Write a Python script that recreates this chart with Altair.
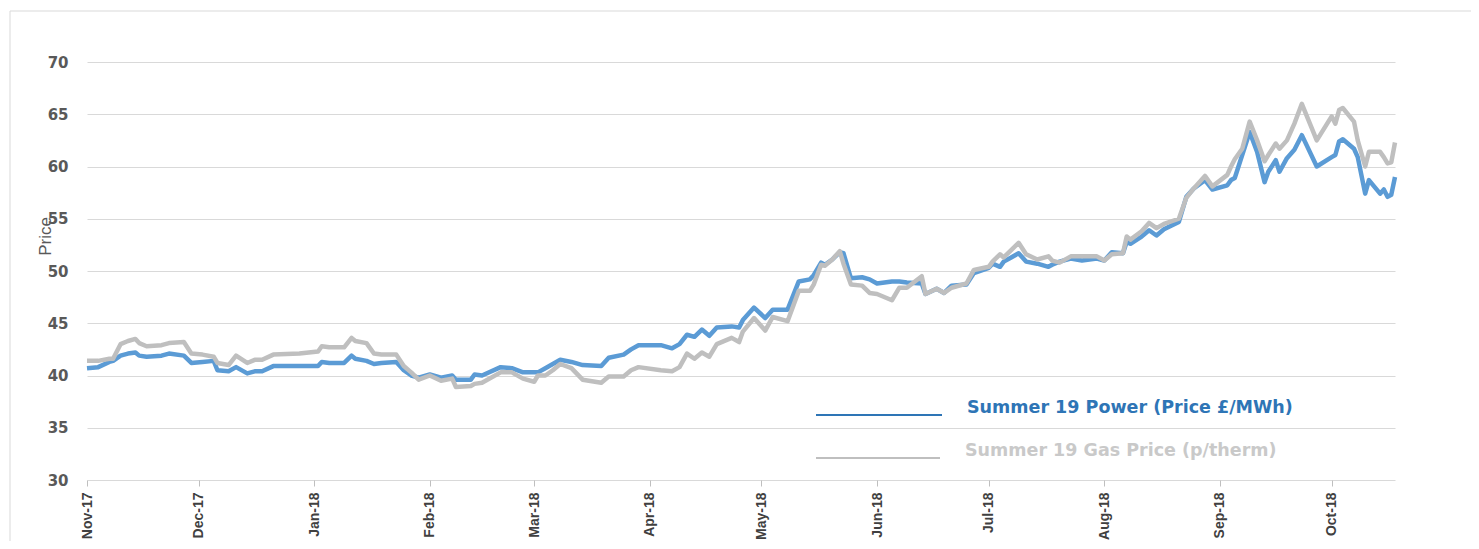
import altair as alt
import pandas as pd

dates = [
    "2017-11-01","2017-11-04","2017-11-07","2017-11-08","2017-11-10","2017-11-12","2017-11-14","2017-11-15","2017-11-17","2017-11-21",
    "2017-11-23","2017-11-27","2017-11-29","2017-12-02","2017-12-05","2017-12-06","2017-12-09","2017-12-11","2017-12-14","2017-12-16",
    "2017-12-18","2017-12-21","2017-12-28","2018-01-02","2018-01-03","2018-01-05","2018-01-09","2018-01-11","2018-01-12","2018-01-15",
    "2018-01-17","2018-01-19","2018-01-23","2018-01-25","2018-01-27","2018-01-29","2018-02-01","2018-02-04","2018-02-07","2018-02-08",
    "2018-02-12","2018-02-13","2018-02-15","2018-02-20","2018-02-23","2018-02-26","2018-03-01","2018-03-02","2018-03-04","2018-03-06",
    "2018-03-08","2018-03-11","2018-03-14","2018-03-19","2018-03-21","2018-03-25","2018-03-27","2018-03-29","2018-04-04","2018-04-07",
    "2018-04-09","2018-04-11","2018-04-13","2018-04-15","2018-04-17","2018-04-19","2018-04-23","2018-04-25","2018-04-26","2018-04-29",
    "2018-05-02","2018-05-04","2018-05-08","2018-05-11","2018-05-14","2018-05-15","2018-05-17","2018-05-18","2018-05-20","2018-05-22",
    "2018-05-23","2018-05-25","2018-05-28","2018-05-30","2018-06-01","2018-06-05","2018-06-07","2018-06-09","2018-06-13","2018-06-14",
    "2018-06-17","2018-06-19","2018-06-21","2018-06-25","2018-06-27","2018-07-01","2018-07-02","2018-07-04","2018-07-05","2018-07-07",
    "2018-07-09","2018-07-11","2018-07-14","2018-07-17","2018-07-18","2018-07-20","2018-07-23","2018-07-26","2018-07-30","2018-08-01",
    "2018-08-03","2018-08-06","2018-08-07","2018-08-08","2018-08-11","2018-08-13","2018-08-15","2018-08-17","2018-08-21","2018-08-23",
    "2018-08-25","2018-08-28","2018-08-30","2018-09-03","2018-09-04","2018-09-05","2018-09-07","2018-09-09","2018-09-11","2018-09-13",
    "2018-09-14","2018-09-16","2018-09-17","2018-09-19","2018-09-21","2018-09-23","2018-09-27","2018-10-01","2018-10-02","2018-10-03",
    "2018-10-04","2018-10-07","2018-10-08","2018-10-10","2018-10-11","2018-10-14","2018-10-15","2018-10-16","2018-10-17","2018-10-18",
]

power = [
    40.7,40.8,41.3,41.4,41.9,42.1,42.2,41.9,41.8,41.9,
    42.1,41.9,41.2,41.3,41.4,40.5,40.4,40.8,40.2,40.4,
    40.4,40.9,40.9,40.9,41.3,41.2,41.2,41.9,41.6,41.4,
    41.1,41.2,41.3,40.5,40.0,39.8,40.1,39.8,40.0,39.6,
    39.6,40.1,40.0,40.8,40.7,40.3,40.3,40.3,40.7,41.1,
    41.5,41.3,41.0,40.9,41.7,42.0,42.5,42.9,42.9,42.6,
    43.0,43.9,43.7,44.4,43.8,44.6,44.7,44.6,45.3,46.5,
    45.5,46.3,46.3,49.0,49.2,49.6,50.8,50.6,51.1,51.8,
    51.7,49.3,49.4,49.2,48.8,49.0,49.0,48.9,48.8,47.8,
    48.3,47.9,48.6,48.7,49.8,50.3,50.7,50.4,50.9,51.3,
    51.7,50.9,50.7,50.4,50.6,50.9,51.2,51.0,51.2,51.0,
    51.8,51.7,52.8,52.6,53.3,53.9,53.4,54.0,54.7,57.1,
    57.9,58.7,57.8,58.2,58.7,58.9,61.1,63.3,61.4,58.5,
    59.5,60.6,59.5,60.8,61.6,63.0,60.0,60.9,61.1,62.4,
    62.6,61.7,60.9,57.4,58.7,57.4,57.8,57.1,57.3,59.0,
]

gas = [
    41.4,41.4,41.6,41.6,43.0,43.3,43.5,43.1,42.8,42.9,
    43.1,43.2,42.1,42.0,41.8,41.2,41.0,41.9,41.2,41.5,
    41.5,42.0,42.1,42.3,42.8,42.7,42.7,43.6,43.3,43.1,
    42.1,42.0,42.0,40.9,40.3,39.6,40.0,39.5,39.7,38.9,
    39.0,39.2,39.3,40.3,40.3,39.7,39.4,40.0,40.0,40.5,
    41.1,40.7,39.6,39.3,39.9,39.9,40.5,40.8,40.5,40.4,
    40.8,42.1,41.6,42.2,41.8,43.0,43.6,43.2,44.2,45.5,
    44.3,45.6,45.2,48.1,48.1,48.7,50.6,50.5,51.1,51.9,
    50.7,48.7,48.6,47.9,47.8,47.2,48.4,48.4,49.5,47.8,
    48.3,47.9,48.4,48.8,50.1,50.4,50.9,51.6,51.3,52.0,
    52.7,51.6,51.1,51.4,51.0,50.8,51.4,51.4,51.4,51.0,
    51.6,51.7,53.3,53.0,53.8,54.6,54.1,54.5,55.0,57.0,
    57.9,59.1,58.1,59.2,60.0,60.7,61.7,64.3,62.5,60.5,
    61.1,62.2,61.7,62.5,64.1,66.0,62.5,64.8,64.1,65.4,
    65.6,64.3,62.5,60.0,61.4,61.4,60.9,60.3,60.4,62.3,
]

y_ticks = [30, 35, 40, 45, 50, 55, 60, 65, 70]
legend_labels = ["Summer 19 Power (Price £/MWh)", "Summer 19 Gas Price (p/therm)"]

POWER_COLOR = "#5B9BD5"
GAS_COLOR = "#BFBFBF"

df = pd.DataFrame({"date": dates, "power": power, "gas": gas})

x_enc = alt.X(
    "date:T",
    scale=alt.Scale(
        type="utc",
        domain=[alt.DateTime(year=2017, month=11, date=1, utc=True),
                alt.DateTime(year=2018, month=10, date=18, utc=True)],
    ),
    axis=alt.Axis(
        format="%b-%y",
        tickCount=alt.TimeIntervalStep(interval="month", step=1),
        labelAngle=270,
        labelAlign="right",
        labelBaseline="middle",
        labelFont="Liberation Sans",
        labelFontWeight="bold",
        labelFontSize=14,
        labelColor="#404040",
        labelPadding=6,
        labelOverlap=False,
        grid=False,
        domain=False,
        ticks=True,
        tickColor="#BFBFBF",
        tickSize=6,
        title=None,
    ),
)

y_scale = alt.Scale(domain=[30, 70], nice=False, zero=False)

base = alt.Chart(df)

power_line = base.mark_line(color=POWER_COLOR, strokeWidth=4.5, strokeJoin="round").encode(
    x=x_enc,
    y=alt.Y(
        "power:Q",
        scale=y_scale,
        axis=alt.Axis(
            values=y_ticks,
            grid=True,
            gridColor="#D9D9D9",
            gridWidth=1,
            domain=False,
            ticks=False,
            labelFont="DejaVu Sans",
            labelFontWeight="bold",
            labelFontSize=15,
            labelColor="#595959",
            labelPadding=19,
            title="Price",
            titleFont="Liberation Sans",
            titleFontWeight="normal",
            titleFontSize=17,
            titleColor="#595959",
            titleX=-42,
            titleY=174,
            titleAlign="center",
            titleBaseline="middle",
        ),
    ),
)

gas_line = base.mark_line(color=GAS_COLOR, strokeWidth=4.5, strokeJoin="round").encode(
    x=alt.X("date:T"),
    y=alt.Y("gas:Q", scale=y_scale),
)

one = alt.Data(values=[{"k": 1}])

frame = alt.Chart(one).mark_rect(fill=None, stroke="#D9D9D9", strokeWidth=1).encode(
    x=alt.value(-77), x2=alt.value(1388), y=alt.value(-51), y2=alt.value(640)
)

leg_power_rule = alt.Chart(one).mark_rule(color="#2E75B6", strokeWidth=2).encode(
    x=alt.value(729), x2=alt.value(855), y=alt.value(353)
)
leg_gas_rule = alt.Chart(one).mark_rule(color="#BFBFBF", strokeWidth=2).encode(
    x=alt.value(729), x2=alt.value(853), y=alt.value(396)
)
leg_power_text = alt.Chart(one).mark_text(
    align="left", baseline="middle", font="DejaVu Sans", fontWeight="bold",
    fontSize=17.5, color="#2E75B6"
).encode(x=alt.value(880), y=alt.value(346), text=alt.value(legend_labels[0]))
leg_gas_text = alt.Chart(one).mark_text(
    align="left", baseline="middle", font="DejaVu Sans", fontWeight="bold",
    fontSize=17.5, color="#C9C9C9"
).encode(x=alt.value(878), y=alt.value(389), text=alt.value(legend_labels[1]))

chart = alt.layer(
    frame, power_line, gas_line, leg_power_rule, leg_gas_rule, leg_power_text, leg_gas_text
).properties(
    width=1308,
    height=418,
    autosize=alt.AutoSizeParams(type="none"),
    padding={"left": 79, "top": 54, "right": 76, "bottom": 61},
).configure(background="white").configure_view(stroke="transparent", strokeWidth=0)

chart.save("out.html", embed_options={"renderer": "svg", "actions": False})
